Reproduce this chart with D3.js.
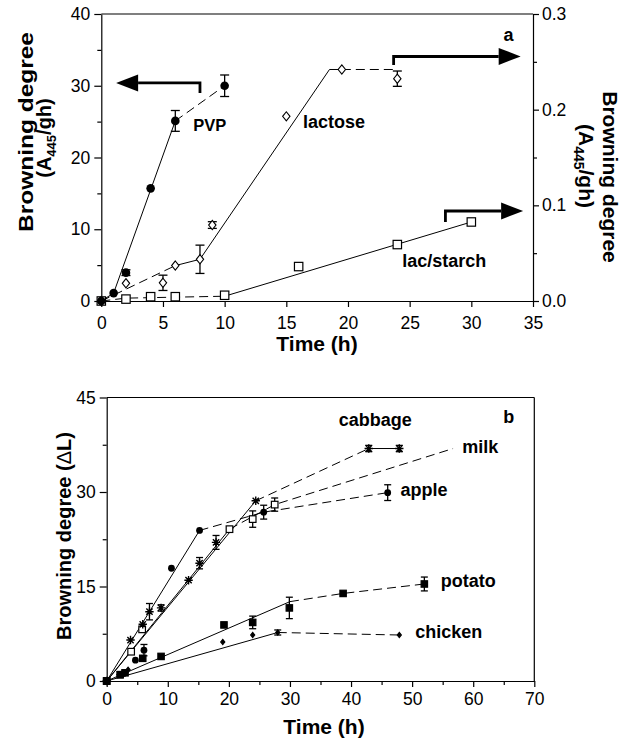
<!DOCTYPE html>
<html>
<head>
<meta charset="utf-8">
<script src="https://cdn.jsdelivr.net/npm/d3@7"></script>
<style>
  body { margin: 0; background: #fff; }
  svg { display: block; font-family: Arial, 'Liberation Sans', Helvetica, sans-serif; }
</style>
</head>
<body>
<script>
// ---- panel a (PVP on left axis, lactose + lac/starch on right axis)
const pvpTime = [0, 1, 2, 4, 6, 10]
const pvpValue = [0, 1.1, 3.95, 15.7, 25.1, 30.0]
const pvpError = [0, 0, 0.4, 0, 1.45, 1.5]
const pvpSolid = [[0, 0], [1, 1.1], [6, 25.1]]
const pvpDashed = [[6, 25.1], [10, 30.0]]

const lactoseTime = [0, 2, 5, 6, 8, 9, 15, 19.5, 24]
const lactoseValue = [0, 0.0185, 0.019, 0.037, 0.0436, 0.0794, 0.193, 0.242, 0.2324]
const lactoseError = [0, 0, 0.008, 0, 0.0148, 0.0035, 0, 0, 0.008]
const lactoseDashed = [[[0, 0], [6, 0.037]], [[19.5, 0.242], [24, 0.242]]]
const lactoseSolid = [[6, 0.037], [8, 0.0436], [18.5, 0.242], [19.5, 0.242]]

const starchTime = [0, 2, 4, 6, 10, 16, 24, 30]
const starchValue = [0, 0.002, 0.0045, 0.0045, 0.006, 0.036, 0.059, 0.0826]
const starchDashed = [[0, 0], [2, 0.003], [10, 0.005]]
const starchSolid = [[10, 0.005], [30, 0.0826]]

const aTicksX = [0, 5, 10, 15, 20, 25, 30, 35]
const aTicksLeft = [0, 10, 20, 30, 40]
const aMinorLeft = [5, 15, 25, 35]
const aTicksRight = [0, 0.1, 0.2, 0.3]
const aMinorRight = [0.05, 0.15, 0.25]

// ---- panel b (delta L)
const cabbageTime = [0, 3.9, 5.9, 7.0, 8.9, 13.4, 15.2, 17.9, 24.4, 42.9, 47.9]
const cabbageValue = [0, 6.5, 9.0, 11.0, 11.6, 16.0, 18.7, 22.0, 28.6, 36.9, 36.9]
const cabbageError = [0, 0, 0, 1.3, 0.5, 0, 0.9, 1.1, 0, 0.5, 0.5]
const cabbageSolid = [[[0, 0], [24.4, 28.6]], [[42.9, 36.9], [47.9, 36.9]]]
const cabbageDashed = [[24.4, 28.6], [42.9, 36.9]]

const milkTime = [0, 4.0, 5.8, 20.1, 23.9, 27.5]
const milkValue = [0, 4.65, 8.2, 24.1, 25.7, 28.0]
const milkError = [0, 0, 0, 0, 1.3, 1.05]
const milkSolid = [[0, 0], [20.1, 24.1]]
const milkDashed = [[20.1, 24.1], [27.5, 28.0], [56.7, 36.9]]

const appleTime = [0, 2.8, 4.7, 6.1, 10.6, 15.2, 25.7, 46.0]
const appleValue = [0, 1.2, 3.3, 4.9, 17.9, 23.9, 26.8, 29.9]
const appleError = [0, 0, 0, 0.9, 0, 0, 1.1, 1.25]
const appleSolid = [[0, 0], [15.2, 23.9]]
const appleDashed = [[15.2, 23.9], [25.7, 26.8], [46.0, 29.9]]

const potatoTime = [0, 2.2, 3.0, 5.9, 8.9, 19.2, 23.9, 29.9, 38.7, 52.0]
const potatoValue = [0, 1.0, 1.3, 3.6, 3.9, 8.9, 9.3, 11.6, 13.9, 15.4]
const potatoError = [0, 0.5, 0, 0, 0, 0, 1.0, 1.7, 0, 1.1]
const potatoSolid = [[0, 0], [30.0, 12.6]]
const potatoDashed = [[30.0, 12.6], [38.7, 13.9], [52.0, 15.4]]

const chickenTime = [0, 2.0, 3.5, 19.0, 23.9, 28.0, 47.9]
const chickenValue = [0, 1.0, 1.8, 6.2, 7.3, 7.7, 7.3]
const chickenError = [0, 0, 0, 0, 0, 0.4, 0]
const chickenSolid = [[0, 0], [28.0, 7.7]]
const chickenDashed = [[28.0, 7.7], [47.9, 7.3]]

const bTicksX = [0, 10, 20, 30, 40, 50, 60, 70]
const bMinorX = [5, 15, 25, 35, 45, 55, 65]
const bTicksY = [0, 15, 30, 45]
const bMinorY = [7.5, 22.5, 37.5]

;(function () {
  const svg = d3.select('body').append('svg').attr('width', 629).attr('height', 740)

  const xA = d3.scaleLinear().domain([0, 35]).range([101.3, 533])
  const yA = d3.scaleLinear().domain([0, 40]).range([301, 14])
  const yA2 = d3.scaleLinear().domain([0, 0.3]).range([301, 14])
  const xB = d3.scaleLinear().domain([0, 70]).range([106.7, 534.3])
  const yB = d3.scaleLinear().domain([0, 45]).range([681, 397.5])

  const zip = (t, v, e) => t.map((d, i) => ({ t: d, v: v[i], e: e ? e[i] : 0 }))

  function styleAxis(g, size) {
    g.attr('font-family', null).attr('font-size', size)
    g.select('.domain').attr('stroke-width', 1.2)
    g.selectAll('.tick line').attr('stroke-width', 1.2)
    g.selectAll('.tick text').attr('fill', '#000')
  }

  function drawAxes(x, y, y2, opts) {
    const g = svg.append('g')
    const bottom = g.append('g')
      .attr('transform', `translate(0,${y.range()[0]})`)
      .call(d3.axisBottom(x).tickValues(opts.xTicks).tickSize(6).tickSizeOuter(0).tickPadding(opts.xPad))
    styleAxis(bottom, 17.5)
    if (opts.xMinor) {
      const m = g.append('g')
        .attr('transform', `translate(0,${y.range()[0]})`)
        .call(d3.axisBottom(x).tickValues(opts.xMinor).tickSize(4).tickFormat(''))
      m.select('.domain').remove()
      m.selectAll('line').attr('stroke-width', 1.2)
    }
    const left = g.append('g')
      .attr('transform', `translate(${x.range()[0]},0)`)
      .call(d3.axisLeft(y).tickValues(opts.yTicks).tickSize(7).tickSizeOuter(0).tickPadding(4))
    styleAxis(left, 17.5)
    const lm = g.append('g')
      .attr('transform', `translate(${x.range()[0]},0)`)
      .call(d3.axisLeft(y).tickValues(opts.yMinor).tickSize(4).tickFormat(''))
    lm.select('.domain').remove()
    lm.selectAll('line').attr('stroke-width', 1.2)

    if (y2) {
      const right = g.append('g')
        .attr('transform', `translate(${x.range()[1]},0)`)
        .call(d3.axisRight(y2).tickValues(opts.y2Ticks).tickFormat(d3.format('.1f')).tickSize(6).tickSizeOuter(0).tickPadding(3))
      styleAxis(right, 17.5)
      const rm = g.append('g')
        .attr('transform', `translate(${x.range()[1]},0)`)
        .call(d3.axisRight(y2).tickValues(opts.y2Minor).tickSize(4).tickFormat(''))
      rm.select('.domain').remove()
      rm.selectAll('line').attr('stroke-width', 1.2)
    } else {
      g.append('line')
        .attr('x1', x.range()[1]).attr('x2', x.range()[1])
        .attr('y1', y.range()[0]).attr('y2', y.range()[1])
        .attr('stroke', '#000').attr('stroke-width', 1.2)
    }
    // top frame
    g.append('line')
      .attr('x1', x.range()[0]).attr('x2', x.range()[1])
      .attr('y1', y.range()[1]).attr('y2', y.range()[1])
      .attr('stroke', '#000').attr('stroke-width', 1.2)
  }

  function drawLine(x, y, pts, dashed) {
    const line = d3.line().x((d) => x(d[0])).y((d) => y(d[1]))
    svg.append('path')
      .attr('d', line(pts))
      .attr('fill', 'none')
      .attr('stroke', '#000')
      .attr('stroke-width', 1)
      .attr('stroke-dasharray', dashed ? '9,5' : null)
  }

  function drawErrors(x, y, data, cap) {
    const g = svg.append('g').attr('stroke', '#000').attr('stroke-width', 1.3)
    data.filter((d) => d.e > 0).forEach((d) => {
      const cx = x(d.t)
      g.append('line').attr('x1', cx).attr('x2', cx).attr('y1', y(d.v - d.e)).attr('y2', y(d.v + d.e))
      ;[d.v - d.e, d.v + d.e].forEach((v) => {
        g.append('line').attr('x1', cx - cap / 2).attr('x2', cx + cap / 2).attr('y1', y(v)).attr('y2', y(v))
      })
    })
  }

  function drawMarkers(x, y, data, type, size) {
    const g = svg.append('g')
    data.forEach((d) => {
      const cx = x(d.t)
      const cy = y(d.v)
      if (type === 'circle') {
        g.append('circle').attr('cx', cx).attr('cy', cy).attr('r', size).attr('fill', '#000')
      } else if (type === 'square' || type === 'fsquare') {
        g.append('rect')
          .attr('x', cx - size).attr('y', cy - size)
          .attr('width', size * 2).attr('height', size * 2)
          .attr('fill', type === 'square' ? '#fff' : '#000')
          .attr('stroke', '#000').attr('stroke-width', 1.2)
      } else if (type === 'diamond' || type === 'fdiamond') {
        const w = size * 0.8
        g.append('path')
          .attr('d', `M${cx},${cy - size}L${cx + w},${cy}L${cx},${cy + size}L${cx - w},${cy}Z`)
          .attr('fill', type === 'diamond' ? '#fff' : '#000')
          .attr('stroke', '#000').attr('stroke-width', 1.1)
      } else if (type === 'star') {
        const s = size
        const k = s * 0.75
        g.append('path')
          .attr('d', `M${cx - s},${cy}H${cx + s}M${cx},${cy - s}V${cy + s}` +
            `M${cx - k},${cy - k}L${cx + k},${cy + k}M${cx - k},${cy + k}L${cx + k},${cy - k}`)
          .attr('stroke', '#000').attr('stroke-width', 1.4)
      }
    })
  }

  function drawArrow(x, y, tail, tip, v, tickV) {
    const dir = Math.sign(x(tip) - x(tail))
    const headLen = 22
    const half = 8.5
    const g = svg.append('g')
    g.append('path')
      .attr('d', `M${x(tail)},${y(tickV)}V${y(v)}H${x(tip) - dir * headLen}`)
      .attr('fill', 'none').attr('stroke', '#000').attr('stroke-width', 2.8)
    g.append('path')
      .attr('d', `M${x(tip)},${y(v)}L${x(tip) - dir * headLen},${y(v) - half}L${x(tip) - dir * headLen},${y(v) + half}Z`)
      .attr('fill', '#000')
  }

  function label(x, y, t, v, text, size) {
    svg.append('text')
      .attr('x', x(t)).attr('y', y(v))
      .attr('font-size', size).attr('font-weight', 'bold')
      .text(text)
  }

  // ---------------- panel a
  drawAxes(xA, yA, yA2, {
    xTicks: aTicksX, xPad: 10, yTicks: aTicksLeft, yMinor: aMinorLeft,
    y2Ticks: aTicksRight, y2Minor: aMinorRight,
  })

  drawLine(xA, yA, pvpSolid, false)
  drawLine(xA, yA, pvpDashed, true)
  lactoseDashed.forEach((p) => drawLine(xA, yA2, p, true))
  drawLine(xA, yA2, lactoseSolid, false)
  drawLine(xA, yA2, starchDashed, true)
  drawLine(xA, yA2, starchSolid, false)

  const pvp = zip(pvpTime, pvpValue, pvpError)
  const lactose = zip(lactoseTime, lactoseValue, lactoseError)
  const starch = zip(starchTime, starchValue)
  drawErrors(xA, yA, pvp, 9)
  drawErrors(xA, yA2, lactose, 9)
  drawMarkers(xA, yA2, starch, 'square', 4.2)
  drawMarkers(xA, yA2, lactose, 'diamond', 4.6)
  drawMarkers(xA, yA, pvp, 'circle', 4.3)

  drawArrow(xA, yA, 8, 1.2, 30.4, 29.0)
  drawArrow(xA, yA2, 23.7, 34.0, 0.2556, 0.2467)
  drawArrow(xA, yA2, 27.9, 34.2, 0.0941, 0.0826)

  label(xA, yA, 7.45, 23.7, 'PVP', 16.5)
  label(xA, yA, 16.35, 24.1, 'lactose', 18)
  label(xA, yA, 24.4, 4.7, 'lac/starch', 18)
  label(xA, yA, 32.6, 36.2, 'a', 18)

  svg.append('text').attr('x', 317).attr('y', 351)
    .attr('text-anchor', 'middle').attr('font-size', 21).attr('font-weight', 'bold')
    .text('Time (h)')

  svg.append('text').attr('transform', 'translate(33,132) rotate(-90)')
    .attr('text-anchor', 'middle').attr('font-size', 21).attr('font-weight', 'bold')
    .attr('textLength', 200).attr('lengthAdjust', 'spacingAndGlyphs')
    .text('Browning degree')
  const subLeft = svg.append('text').attr('transform', 'translate(51,138) rotate(-90)')
    .attr('text-anchor', 'middle').attr('font-size', 20).attr('font-weight', 'bold')
  subLeft.append('tspan').text('(A')
  subLeft.append('tspan').attr('font-size', 13).attr('dy', 5).text('445')
  subLeft.append('tspan').attr('dy', -5).text('/gh)')

  svg.append('text').attr('transform', 'translate(603,177) rotate(90)')
    .attr('text-anchor', 'middle').attr('font-size', 21).attr('font-weight', 'bold')
    .text('Browning degree')
  const subRight = svg.append('text').attr('transform', 'translate(579,166) rotate(90)')
    .attr('text-anchor', 'middle').attr('font-size', 21).attr('font-weight', 'bold')
  subRight.append('tspan').text('(A')
  subRight.append('tspan').attr('font-size', 14).attr('dy', 5).text('445')
  subRight.append('tspan').attr('dy', -5).text('/gh)')

  // ---------------- panel b
  drawAxes(xB, yB, null, {
    xTicks: bTicksX, xMinor: bMinorX, xPad: 6, yTicks: bTicksY, yMinor: bMinorY,
  })

  cabbageSolid.forEach((p) => drawLine(xB, yB, p, false))
  drawLine(xB, yB, cabbageDashed, true)
  drawLine(xB, yB, milkSolid, false)
  drawLine(xB, yB, milkDashed, true)
  drawLine(xB, yB, appleSolid, false)
  drawLine(xB, yB, appleDashed, true)
  drawLine(xB, yB, potatoSolid, false)
  drawLine(xB, yB, potatoDashed, true)
  drawLine(xB, yB, chickenSolid, false)
  drawLine(xB, yB, chickenDashed, true)

  const cabbage = zip(cabbageTime, cabbageValue, cabbageError)
  const milk = zip(milkTime, milkValue, milkError)
  const apple = zip(appleTime, appleValue, appleError)
  const potato = zip(potatoTime, potatoValue, potatoError)
  const chicken = zip(chickenTime, chickenValue, chickenError)
  ;[cabbage, milk, apple, potato, chicken].forEach((s) => drawErrors(xB, yB, s, 7))

  drawMarkers(xB, yB, milk, 'square', 3.3)
  drawMarkers(xB, yB, potato, 'fsquare', 3.2)
  drawMarkers(xB, yB, apple, 'circle', 3.4)
  drawMarkers(xB, yB, chicken, 'fdiamond', 2.6)
  drawMarkers(xB, yB, cabbage, 'star', 4.2)

  label(xB, yB, 38.0, 40.4, 'cabbage', 18)
  label(xB, yB, 58.2, 36.2, 'milk', 18)
  label(xB, yB, 48.1, 29.4, 'apple', 18)
  label(xB, yB, 54.7, 14.9, 'potato', 18)
  label(xB, yB, 50.5, 6.8, 'chicken', 18)
  label(xB, yB, 64.9, 41.0, 'b', 18)

  svg.append('text').attr('x', 324).attr('y', 734)
    .attr('text-anchor', 'middle').attr('font-size', 21).attr('font-weight', 'bold')
    .text('Time (h)')
  const yLabB = svg.append('text').attr('transform', 'translate(71,536) rotate(-90)')
    .attr('text-anchor', 'middle').attr('font-size', 20).attr('font-weight', 'bold')
  yLabB.append('tspan').text('Browning degree (')
  yLabB.append('tspan').attr('font-weight', 'normal').text('Δ')
  yLabB.append('tspan').text('L)')
})()
</script>
</body>
</html>
